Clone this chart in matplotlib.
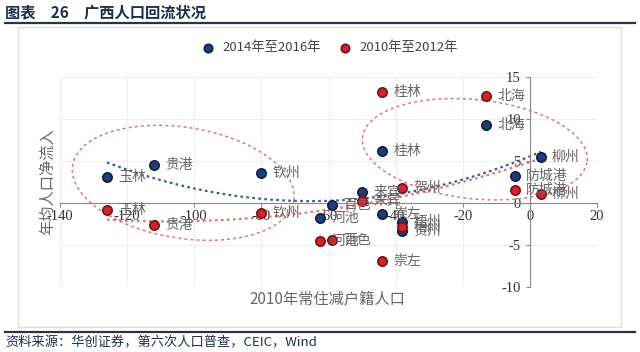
import numpy as np
import matplotlib
matplotlib.use("Agg")
import matplotlib.pyplot as plt
from matplotlib.patches import Rectangle
from matplotlib.lines import Line2D

plt.rcParams['font.family'] = ['Noto Sans CJK SC', 'DejaVu Sans']
plt.rcParams['axes.unicode_minus'] = False

# 2014年至2016年
blue_names = ['玉林', '贵港', '钦州', '桂林', '北海', '柳州', '防城港', '来宾',
              '百色', '河池', '崇左', '梧州', '贺州']
blue_x = [-126, -112, -80, -44, -13, 3.3, -4.5, -50, -59, -62.5, -44, -38, -38]
blue_y = [3.1, 4.5, 3.6, 6.2, 9.3, 5.5, 3.2, 1.35, -0.25, -1.8, -1.3, -2.3, -3.3]

# 2010年至2012年
red_names = ['玉林', '贵港', '钦州', '桂林', '北海', '防城港', '柳州', '贺州',
             '来宾', '河池', '百色', '崇左', '梧州']
red_x = [-126, -112, -80, -44, -13, -4.5, 3.2, -38, -50, -62.5, -59, -44, -38]
red_y = [-0.8, -2.6, -1.2, 13.2, 12.7, 1.55, 1.07, 1.75, 0.24, -4.5, -4.4, -6.9, -2.8]

blue_c = '#1F3D7A'
red_c = '#D0242C'
label_c = '#666666'

fig = plt.figure(figsize=(6.4, 3.52), dpi=100)

# 外框和标题线
fig.patches.append(Rectangle((18/640, 1-327/352), 603/640, 300/352, transform=fig.transFigure,
                             fill=False, edgecolor='#DDDDDD', lw=1))
fig.add_artist(Line2D([5/640, 635/640], [1-23/352, 1-23/352], color='#2B3440', lw=1.6))
fig.add_artist(Line2D([5/640, 635/640], [1-332/352, 1-332/352], color='#2B3440', lw=1.6))
fig.text(5/640, 1-12/352, '图表　26　广西人口回流状况', fontsize=11, fontweight='bold',
         color='#1F2D4D', va='center', ha='left')
fig.text(5/640, 1-343/352, '资料来源：华创证券，第六次人口普查，CEIC，Wind', fontsize=9.5,
         color='#1F2D4D', va='center', ha='left', style='italic')

ax = fig.add_axes([60/640, 1-287/352, 537/640, 210/352])
ax.set_xlim(-140, 20)
ax.set_ylim(-10, 15)
ax.set_xticks(range(-140, 21, 20))
ax.set_yticks(range(-10, 16, 5))
ax.grid(True, color='#EEEEEE', lw=0.8)
ax.set_axisbelow(True)
for s in ['top', 'right']:
    ax.spines[s].set_visible(False)
ax.spines['bottom'].set_position(('data', 0))
ax.spines['left'].set_position(('data', 0))
ax.spines['bottom'].set_color('#888888')
ax.spines['left'].set_color('#888888')
ax.tick_params(colors='#888888', length=3, labelsize=10.5, labelcolor='#333333',
               labelfontfamily='Liberation Serif')
ax.xaxis.set_tick_params(pad=2)


def tilted_ellipse(cx, cy, w, h, ang):
    # 椭圆在屏幕像素中倾斜, 再换回数据坐标
    x0, y0 = ax.transData.transform((cx, cy))
    sx, sy = ax.transData.transform((cx + w / 2, cy + h / 2)) - np.array([x0, y0])
    t = np.linspace(0, 2 * np.pi, 300)
    a = np.radians(ang)
    px = x0 + sx * np.cos(t) * np.cos(a) - sy * np.sin(t) * np.sin(a)
    py = y0 + sx * np.cos(t) * np.sin(a) + sy * np.sin(t) * np.cos(a)
    pts = ax.transData.inverted().transform(np.column_stack([px, py]))
    ax.plot(pts[:, 0], pts[:, 1], color='#E07878', lw=1.1, ls=(0, (2, 2)))


tilted_ellipse(-103.3, 2.4, 66.7, 13.2, -9)
tilted_ellipse(-16.4, 6.4, 67.3, 11.8, -6)

# 趋势线 (二次多项式)
for xs, ys, c in [(blue_x, blue_y, '#3A5A9A'), (red_x, red_y, '#E87070')]:
    p = np.polyfit(xs, ys, 2)
    xx = np.linspace(min(xs), max(xs), 200)
    ax.plot(xx, np.polyval(p, xx), ls=(0, (1.2, 1.5)), color=c, lw=1.6)

ax.scatter(blue_x, blue_y, s=45, color=blue_c, edgecolors='#0E1E40', linewidths=1.2,
           zorder=5, label='2014年至2016年')
ax.scatter(red_x, red_y, s=45, color=red_c, edgecolors='#7A1018', linewidths=1.2,
           zorder=5, label='2010年至2012年')

for names, xs, ys in [(blue_names, blue_x, blue_y), (red_names, red_x, red_y)]:
    for n, x, y in zip(names, xs, ys):
        ax.annotate(n, (x, y), xytext=(8, 0), textcoords='offset points',
                    va='center', ha='left', fontsize=10, color=label_c, zorder=6)

fig.legend(loc='center', bbox_to_anchor=(0.51, 1-48/352), ncol=2, frameon=False,
           fontsize=9.5, handletextpad=0.1, columnspacing=0.8, markerscale=0.9,
           labelcolor='#444444')

fig.text(48/640, 1-182/352, '年均人口净流入', rotation=90, fontsize=11, color='#666666',
         va='center', ha='center')
fig.text(327/640, 1-300/352, '2010年常住减户籍人口', fontsize=11, color='#666666',
         va='center', ha='center')

fig.savefig('out.png', dpi=100)
